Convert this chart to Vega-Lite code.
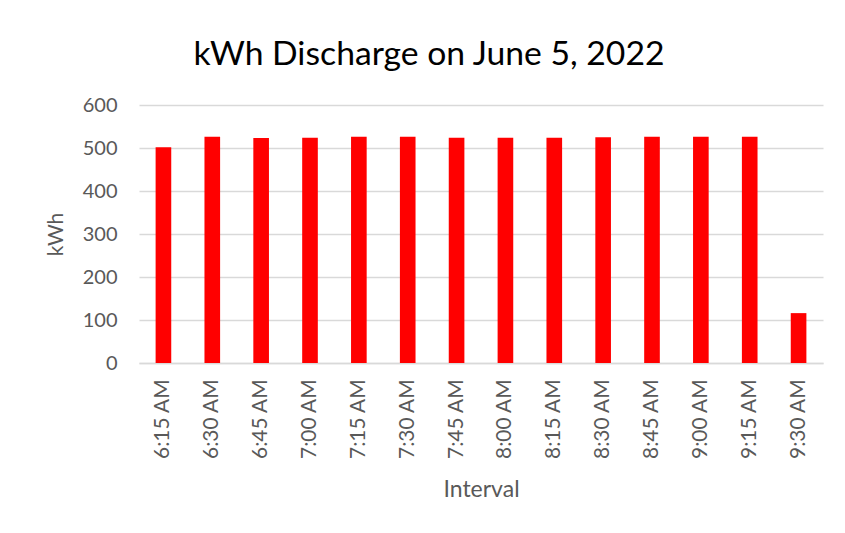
{
  "$schema": "https://vega.github.io/schema/vega-lite/v6.json",
  "autosize": "none",
  "width": 684,
  "height": 258,
  "padding": {"left": 139, "top": 105, "right": 22, "bottom": 170},
  "background": "white",
  "title": {
    "text": "kWh Discharge on June 5, 2022",
    "font": "Lato",
    "fontSize": 33.7,
    "fontWeight": "normal",
    "color": "#000000",
    "dx": -52,
    "offset": 23
  },
  "data": {
    "values": [
      {"interval": "6:15 AM", "kwh": 502},
      {"interval": "6:30 AM", "kwh": 526},
      {"interval": "6:45 AM", "kwh": 523},
      {"interval": "7:00 AM", "kwh": 524},
      {"interval": "7:15 AM", "kwh": 526},
      {"interval": "7:30 AM", "kwh": 526},
      {"interval": "7:45 AM", "kwh": 524},
      {"interval": "8:00 AM", "kwh": 524},
      {"interval": "8:15 AM", "kwh": 524},
      {"interval": "8:30 AM", "kwh": 525},
      {"interval": "8:45 AM", "kwh": 526},
      {"interval": "9:00 AM", "kwh": 526},
      {"interval": "9:15 AM", "kwh": 526},
      {"interval": "9:30 AM", "kwh": 116}
    ]
  },
  "mark": {"type": "bar", "color": "#ff0000"},
  "encoding": {
    "x": {
      "field": "interval",
      "type": "ordinal",
      "sort": null,
      "scale": {"paddingInner": 0.68, "paddingOuter": 0.34},
      "axis": {
        "title": "Interval",
        "titleFont": "Lato",
        "titleFontSize": 23,
        "titleFontWeight": "normal",
        "titleColor": "#595959",
        "titlePadding": 19,
        "labelFont": "Lato",
        "labelFontSize": 20.8,
        "labelColor": "#595959",
        "labelAngle": -90,
        "labelPadding": 16,
        "ticks": false,
        "domainColor": "#d9d9d9",
        "domainWidth": 1.5
      }
    },
    "y": {
      "field": "kwh",
      "type": "quantitative",
      "scale": {"domain": [0, 600]},
      "axis": {
        "title": "kWh",
        "titleFont": "Lato",
        "titleFontSize": 21,
        "titleFontWeight": "normal",
        "titleColor": "#595959",
        "titlePadding": 16,
        "labelFont": "Lato",
        "labelFontSize": 20,
        "labelColor": "#595959",
        "labelPadding": 22,
        "values": [0, 100, 200, 300, 400, 500, 600],
        "ticks": false,
        "domain": false,
        "gridColor": "#d9d9d9",
        "gridWidth": 1.5
      }
    }
  },
  "config": {"view": {"stroke": null}}
}
